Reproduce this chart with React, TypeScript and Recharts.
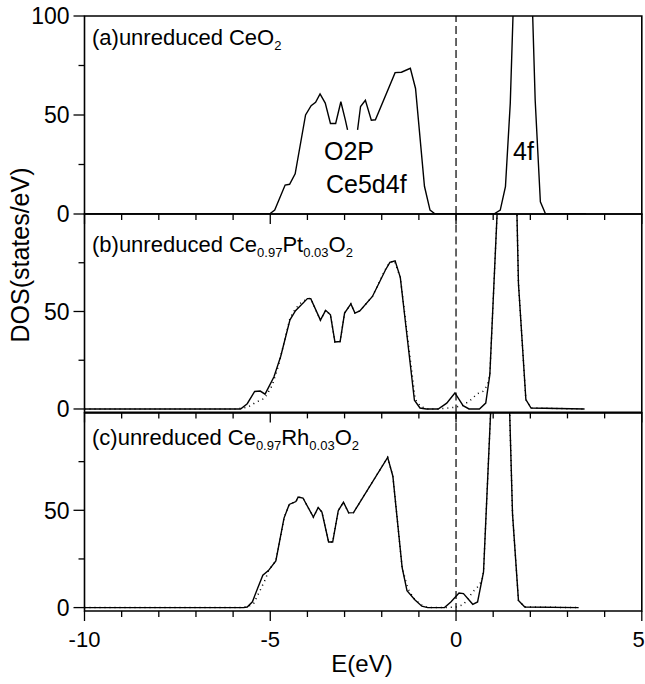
import React from 'react';
import { LineChart, Line, XAxis, YAxis, ReferenceLine, ReferenceArea } from 'recharts';

// ---------- Panel (a): unreduced CeO2 (solid only, gap near -2.8 eV) ----------
const aEnergy = [-10, -5.02, -4.88, -4.6, -4.48, -4.33, -4.05, -3.9, -3.78, -3.66, -3.52, -3.38, -3.24, -3.1, -2.98, -2.92, -2.78, -2.65, -2.57, -2.44, -2.28, -2.17, -1.64, -1.47, -1.23, -1.09, -0.85, -0.7, -0.56, 1.02, 1.19, 1.33, 1.46, 1.6, 2.0, 2.13, 2.27, 2.41, 3.5];
const aDos = [0, 0, 2, 14.6, 15, 20.3, 50, 54.7, 56.4, 60.6, 56, 45.7, 45.7, 56.7, 47.5, 42.5, null, 42.5, 54.3, 57.4, 47.4, 47.6, 71.4, 71.6, 73.6, 63.4, 14, 2, 0, 0, 2, 13.8, 56, 140, 140, 57.6, 6.2, 0, 0];

// ---------- Panel (b): unreduced Ce0.97Pt0.03O2 ----------
const bSolidEnergy = [-10, -5.8, -5.62, -5.42, -5.27, -5.14, -4.9, -4.72, -4.47, -4.32, -4.0, -3.91, -3.65, -3.51, -3.38, -3.26, -3.12, -3.0, -2.83, -2.72, -2.59, -2.25, -1.9, -1.78, -1.64, -1.5, -1.12, -0.97, -0.8, -0.48, -0.25, -0.03, 0.19, 0.35, 0.63, 0.8, 0.91, 1.2, 1.6, 1.68, 1.88, 2.02, 3.46];
const bSolidDos = [0, 0, 2.7, 9, 9.2, 7.6, 16.5, 26.9, 45.7, 50.4, 56.6, 56.6, 45.6, 50.6, 48.3, 34.4, 34.6, 49.2, 53.9, 49.2, 50.3, 57.7, 71.3, 75.2, 76, 67.5, 4.5, 0.5, 0, 0, 3, 8.2, 1.7, 0, 0, 3, 17.6, 140, 135, 64.5, 4.8, 0.5, 0];
const bDotEnergy = [-10, -5.9, -5.6, -5.38, -5.15, -4.95, -4.8, -4.72, -4.47, -4.32, -4.18, -4.0, -3.91, -3.65, -3.51, -3.38, -3.26, -3.12, -3.0, -2.83, -2.72, -2.59, -2.25, -1.92, -1.8, -1.66, -1.5, -1.1, -0.95, -0.75, -0.48, -0.2, 0.0, 0.2, 0.42, 0.57, 0.72, 0.84, 0.91, 1.2, 1.6, 1.68, 1.88, 2.02, 3.5];
const bDotDos = [0, 0, 1, 3.5, 5.5, 12, 21, 26.9, 46.5, 51.5, 54.3, 56.6, 56.6, 45.6, 50.6, 48.3, 34.4, 34.6, 49.2, 53.9, 49.2, 50.3, 57.7, 71, 74.8, 76, 67.5, 5, 1.2, 0, 0, 0.5, 1, 2, 5, 7.8, 9, 12, 17.6, 140, 135, 64.5, 4.8, 0.5, 0];

// ---------- Panel (c): unreduced Ce0.97Rh0.03O2 ----------
const cSolidEnergy = [-10, -5.72, -5.62, -5.48, -5.34, -5.2, -5.05, -4.85, -4.63, -4.49, -4.31, -4.25, -4.12, -3.84, -3.71, -3.61, -3.43, -3.32, -3.17, -3.03, -2.89, -2.76, -1.84, -1.7, -1.45, -1.32, -1.11, -0.92, -0.76, -0.31, -0.14, 0.08, 0.2, 0.45, 0.58, 0.74, 1.0, 1.4, 1.52, 1.68, 1.85, 3.3];
const cSolidDos = [0, 0, 0.3, 3, 10, 16.6, 19, 24, 46, 53, 54.5, 56.8, 56.3, 46.5, 51.4, 49.1, 33.7, 33.7, 49.8, 54.2, 48.7, 48.8, 77.2, 67.5, 20.5, 8.7, 4, 0.7, 0, 0, 2.9, 7.5, 7.2, 1.7, 2.9, 18.3, 130, 130, 48.3, 3.7, 0.3, 0];
const cDotEnergy = [-10, -5.75, -5.6, -5.45, -5.27, -5.12, -5.05, -4.85, -4.63, -4.49, -4.31, -4.25, -4.12, -3.84, -3.71, -3.61, -3.43, -3.32, -3.17, -3.03, -2.89, -2.76, -1.84, -1.7, -1.45, -1.3, -1.15, -0.95, -0.76, -0.31, 0.0, 0.2, 0.45, 0.6, 0.7, 0.74, 1.0, 1.4, 1.52, 1.68, 1.85, 3.3];
const cDotDos = [0, 0, 0.5, 2, 9, 15, 19, 24, 46, 53, 54.5, 56.8, 56.3, 46.5, 51.4, 49.1, 33.7, 33.7, 49.8, 54.2, 48.7, 48.8, 77.2, 67.5, 20.5, 10, 5, 1.5, 0, 0, 0.3, 1.5, 8, 11, 14, 18.3, 130, 130, 48.3, 3.7, 0.3, 0];

// ---------- Axes ----------
const xDomain = [-10, 5];
const xTicks = [-10, -9, -8, -7, -6, -5, -4, -3, -2, -1, 0, 1, 2, 3, 4, 5];
const xTickLabels = [-10, -5, 0, 5];
const aYDomain = [0, 100];
const aYTicks = [0, 25, 50, 75, 100];
const aYLabels = [0, 50, 100];
const bcYDomain = [-1.75, 100];
const bcYTicks = [0, 25, 50, 75];
const bcYLabels = [0, 50];

const FONT = '"Liberation Sans", Arial, Helvetica, sans-serif';

const toPoints = (e: number[], d: (number | null)[]) => e.map((v, i) => ({ e: v, dos: d[i] }));

const XTick = (props: any) => {
  const { x, y, payload, showLabels } = props;
  const v = payload.value;
  const major = xTickLabels.includes(v);
  const isLast = v === xDomain[1];
  return (
    <g>
      <line x1={x} x2={x} y1={y} y2={y + (major ? 10 : 6)} stroke="#000" strokeWidth={1.3} />
      {showLabels && major && (
        <text
          x={isLast ? x + 3 : x}
          y={y + 36}
          textAnchor={isLast ? 'end' : 'middle'}
          fontSize={22}
          fontFamily={FONT}
          fill="#000"
        >
          {v}
        </text>
      )}
    </g>
  );
};

const YTick = (props: any) => {
  const { x, y, payload, labels } = props;
  const v = payload.value;
  const major = v % 50 === 0;
  return (
    <g>
      <line x1={x} x2={x - (major ? 11 : 6)} y1={y} y2={y} stroke="#000" strokeWidth={1.3} />
      {major && labels.includes(v) && (
        <text x={x - 15} y={y} dy="0.36em" textAnchor="end" fontSize={23} fontFamily={FONT} fill="#000">
          {v}
        </text>
      )}
    </g>
  );
};

type PanelProps = {
  top: number;
  plotTop: number;
  plotHeight: number;
  axisHeight: number;
  solid: any[];
  dotted?: any[];
  yDomain: number[];
  yTicks: number[];
  yLabels: number[];
  showXLabels: boolean;
};

function Panel({ top, plotTop, plotHeight, axisHeight, solid, dotted, yDomain, yTicks, yLabels, showXLabels }: PanelProps) {
  const height = plotTop + plotHeight + axisHeight;
  return (
    <div style={{ position: 'absolute', left: 0, top, width: 645, height }}>
      <LineChart width={645} height={height} margin={{ top: plotTop, right: 3.2, bottom: 0, left: 0 }}>
        <XAxis
          type="number"
          dataKey="e"
          domain={xDomain}
          ticks={xTicks}
          interval={0}
          allowDataOverflow
          axisLine={false}
          tickLine={false}
          tickSize={0}
          tickMargin={0}
          height={axisHeight}
          tick={(p: any) => <XTick {...p} showLabels={showXLabels} />}
        />
        <YAxis
          type="number"
          domain={yDomain}
          ticks={yTicks}
          interval={0}
          allowDataOverflow
          axisLine={false}
          tickLine={false}
          tickSize={0}
          tickMargin={0}
          width={84.5}
          tick={(p: any) => <YTick {...p} labels={yLabels} />}
        />
        <ReferenceArea x1={xDomain[0]} x2={xDomain[1]} y1={yDomain[0]} y2={yDomain[1]} fill="none" fillOpacity={0} stroke="#000" strokeWidth={1.6} ifOverflow="visible" />
        <ReferenceLine x={0} stroke="#000" strokeWidth={1.2} strokeDasharray="8 4" />
        {dotted && (
          <Line data={dotted} dataKey="dos" type="linear" stroke="#000" strokeWidth={1.5} strokeDasharray="1 4" dot={false} activeDot={false} isAnimationActive={false} />
        )}
        <Line data={solid} dataKey="dos" type="linear" stroke="#000" strokeWidth={1.4} dot={false} activeDot={false} connectNulls={false} isAnimationActive={false} />
      </LineChart>
    </div>
  );
}

export default function App() {
  const aData = toPoints(aEnergy, aDos);
  const bSolid = toPoints(bSolidEnergy, bSolidDos);
  const bDot = toPoints(bDotEnergy, bDotDos);
  const cSolid = toPoints(cSolidEnergy, cSolidDos);
  const cDot = toPoints(cDotEnergy, cDotDos);
  const sub = { fontSize: 13 };
  return (
    <div style={{ position: 'absolute', left: 0, top: 0, width: 645, height: 684, background: '#fff', overflow: 'hidden' }}>
      <Panel top={0} plotTop={16} plotHeight={198} axisHeight={30} solid={aData} yDomain={aYDomain} yTicks={aYTicks} yLabels={aYLabels} showXLabels={false} />
      <Panel top={204.3} plotTop={10} plotHeight={198.4} axisHeight={30} solid={bSolid} dotted={bDot} yDomain={bcYDomain} yTicks={bcYTicks} yLabels={bcYLabels} showXLabels={false} />
      <Panel top={402.7} plotTop={10} plotHeight={198} axisHeight={60} solid={cSolid} dotted={cDot} yDomain={bcYDomain} yTicks={bcYTicks} yLabels={bcYLabels} showXLabels={true} />
      <svg width={645} height={684} style={{ position: 'absolute', left: 0, top: 0, pointerEvents: 'none' }} fontFamily={FONT} fill="#000">
        <text x={92} y={45} fontSize={22}>
          (a)unreduced CeO<tspan {...sub} dy={5}>2</tspan>
        </text>
        <text x={92} y={252} fontSize={22}>
          (b)unreduced Ce<tspan {...sub} dy={5}>0.97</tspan>
          <tspan dy={-5}>Pt</tspan>
          <tspan {...sub} dy={5}>0.03</tspan>
          <tspan dy={-5}>O</tspan>
          <tspan {...sub} dy={5}>2</tspan>
        </text>
        <text x={92} y={445} fontSize={22}>
          (c)unreduced Ce<tspan {...sub} dy={5}>0.97</tspan>
          <tspan dy={-5}>Rh</tspan>
          <tspan {...sub} dy={5}>0.03</tspan>
          <tspan dy={-5}>O</tspan>
          <tspan {...sub} dy={5}>2</tspan>
        </text>
        <text x={324} y={160} fontSize={25}>O2P</text>
        <text x={326} y={193} fontSize={25}>Ce5d4f</text>
        <text x={513} y={160} fontSize={25}>4f</text>
        <text x={20} y={255} fontSize={25} textAnchor="middle" dy="0.35em" transform="rotate(-90 20 255)">DOS(states/eV)</text>
        <text x={362} y={672} fontSize={24} textAnchor="middle">E(eV)</text>
      </svg>
    </div>
  );
}
